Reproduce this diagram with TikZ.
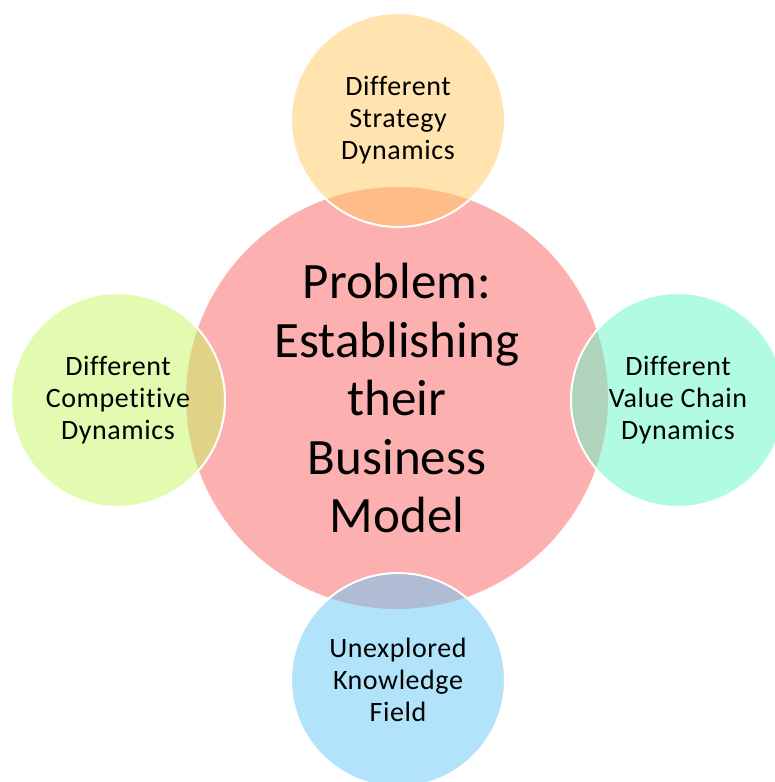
\documentclass[tikz,border=0pt]{standalone}
\usepackage{fontspec}
\setmainfont[Ligatures={NoCommon}]{Carlito}
\newfontfamily\satfont[Ligatures={NoCommon},LetterSpace=2]{Carlito}
\definecolor{cpink}{RGB}{253,176,176}
\definecolor{corange}{RGB}{255,201,97}
\definecolor{cgreen}{RGB}{197,247,97}
\definecolor{cteal}{RGB}{99,247,199}
\definecolor{cblue}{RGB}{99,201,247}
\tikzset{
  hub/.style={circle, inner sep=0pt, minimum size=424pt, fill=cpink, draw=white, line width=2pt,
    align=center, font=\fontsize{51}{58.5}\selectfont},
  sat/.style={circle, inner sep=0pt, minimum size=214pt, fill=#1, fill opacity=0.5, text opacity=1,
    draw=white, draw opacity=1, line width=2pt, align=center, font=\satfont\fontsize{28}{32}\selectfont}
}
\begin{document}
\begin{tikzpicture}[x=1pt,y=-1pt]
\useasboundingbox (0,0) rectangle (774,782);
\node[hub] (hub) at (397,398) {Problem:\\Establishing\\their\\Business\\Model};
\node[sat=corange] (top) at (398,120) {Different\\Strategy\\Dynamics};
\node[sat=cgreen] (left) at (118,400) {Different\\Competitive\\Dynamics};
\node[sat=cteal] (right) at (678,400) {Different\\Value Chain\\Dynamics};
\node[sat=cblue] (bottom) at (398,680) {Unexplored\\Knowledge\\Field};
\end{tikzpicture}
\end{document}
